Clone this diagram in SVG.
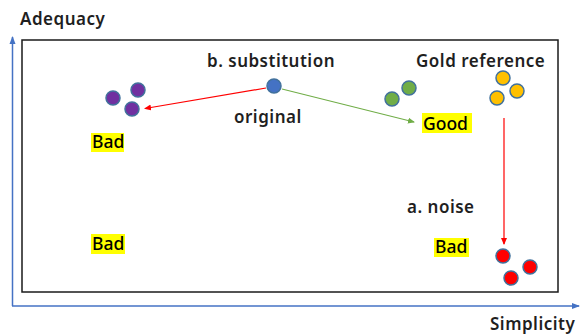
<svg xmlns="http://www.w3.org/2000/svg" width="584" height="336" viewBox="0 0 584 336">
  <style>
    .lbl { font-family: "Noto Sans", "Liberation Sans", sans-serif; font-size: 17px; font-weight: 600; letter-spacing: 0.5px; fill: #1f1f1f; }
    .tag { font-family: "Noto Sans", "Liberation Sans", sans-serif; font-size: 17.5px; font-weight: 500; fill: #000; }
    .hl { fill: #ffff00; }
    .dot { stroke: #41719c; stroke-width: 1.5; }
    .purple { fill: #7030a0; }
    .blue { fill: #4472c4; }
    .green { fill: #70ad47; }
    .gold { fill: #ffc000; }
    .red { fill: #ff0000; }
  </style>
  <defs>
    <marker id="ahBlue" markerWidth="8" markerHeight="8" refX="7" refY="4" orient="auto" markerUnits="userSpaceOnUse">
      <path d="M0,1 L8,4 L0,7 Z" fill="#4472c4"/>
    </marker>
    <marker id="ahRed" markerWidth="7" markerHeight="7" refX="6" refY="3.5" orient="auto" markerUnits="userSpaceOnUse">
      <path d="M0,0.5 L7,3.5 L0,6.5 Z" fill="#ff0000"/>
    </marker>
    <marker id="ahGreen" markerWidth="7" markerHeight="7" refX="6" refY="3.5" orient="auto" markerUnits="userSpaceOnUse">
      <path d="M0,0.5 L7,3.5 L0,6.5 Z" fill="#70ad47"/>
    </marker>
  </defs>

  <rect width="584" height="336" fill="#ffffff"/>

  <!-- axes -->
  <g id="axes" fill="none" stroke="#4472c4" stroke-width="1.5">
    <line x1="12.5" y1="306" x2="12.5" y2="37" marker-end="url(#ahBlue)"/>
    <line x1="12" y1="306" x2="579" y2="306" marker-end="url(#ahBlue)"/>
  </g>
  <text class="lbl" x="20" y="25">Adequacy</text>
  <text class="lbl" x="490" y="330">Simplicity</text>

  <!-- plot frame -->
  <rect x="22" y="40" width="536" height="252" fill="none" stroke="#1a1a1a" stroke-width="1.5"/>

  <!-- connectors -->
  <g id="connectors" fill="none" stroke-width="1.2">
    <line x1="266" y1="88" x2="145" y2="108.5" stroke="#ff0000" marker-end="url(#ahRed)"/>
    <line x1="282" y1="89" x2="414" y2="122" stroke="#70ad47" marker-end="url(#ahGreen)"/>
    <line x1="504" y1="118" x2="504" y2="244" stroke="#ff0000" marker-end="url(#ahRed)"/>
  </g>

  <g id="original">
    <circle class="dot blue" cx="274" cy="86" r="7"/>
    <text class="lbl" x="207" y="67">b. substitution</text>
    <text class="lbl" x="234" y="123">original</text>
  </g>

  <g id="substitution-bad">
    <circle class="dot purple" cx="113" cy="98" r="7"/>
    <circle class="dot purple" cx="138" cy="90" r="7"/>
    <circle class="dot purple" cx="132" cy="109" r="7"/>
    <rect class="hl" x="91" y="133" width="33" height="19"/>
    <text class="tag" x="92" y="148">Bad</text>
  </g>

  <g id="substitution-good">
    <circle class="dot green" cx="392" cy="99" r="7"/>
    <circle class="dot green" cx="409" cy="88" r="7"/>
    <rect class="hl" x="422" y="113" width="50" height="20"/>
    <text class="tag" x="423" y="130">Good</text>
  </g>

  <g id="gold-reference">
    <text class="lbl" x="416" y="67">Gold reference</text>
    <circle class="dot gold" cx="503" cy="78" r="7"/>
    <circle class="dot gold" cx="517" cy="91" r="7"/>
    <circle class="dot gold" cx="497" cy="98" r="7"/>
  </g>

  <g id="corner-bad">
    <rect class="hl" x="91" y="234" width="34" height="20"/>
    <text class="tag" x="92" y="250">Bad</text>
  </g>

  <g id="noise">
    <text class="lbl" x="407" y="213">a. noise</text>
    <rect class="hl" x="434" y="238" width="35" height="19"/>
    <text class="tag" x="435" y="253">Bad</text>
    <circle class="dot red" cx="503" cy="256" r="7"/>
    <circle class="dot red" cx="530" cy="267" r="7"/>
    <circle class="dot red" cx="511" cy="278" r="7"/>
  </g>
</svg>
